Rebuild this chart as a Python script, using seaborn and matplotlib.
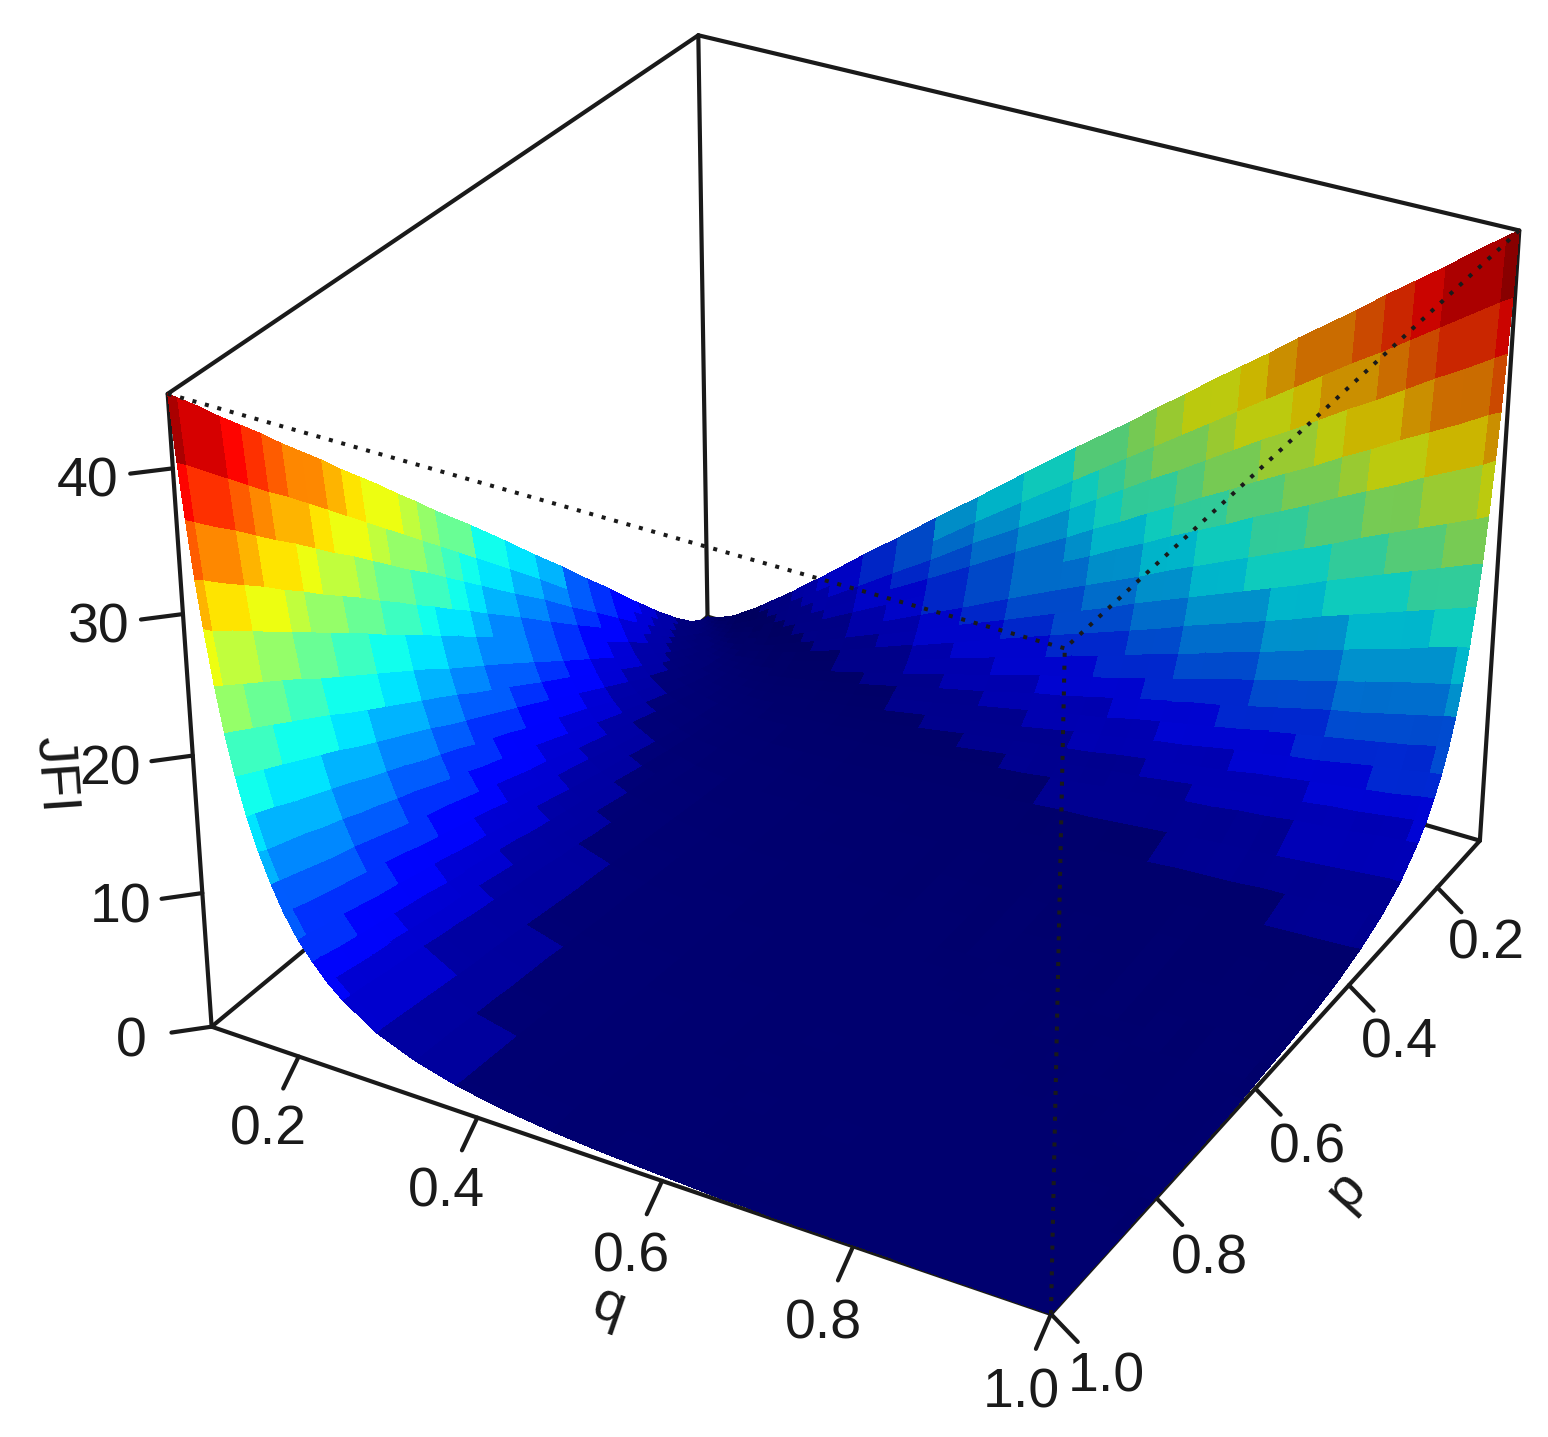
import numpy as np
import matplotlib
matplotlib.use('Agg')
import matplotlib.pyplot as plt
from matplotlib.transforms import ScaledTranslation
from mpl_toolkits.mplot3d import proj3d
import seaborn as sns

# shared p / q grid read from the facet spacing of the surface
grid_values = [.1,.105,.11,.116,.122,.13,.138,.147,.157,.168,.18,.193,.207,.222,.238,.255,.292,.333,.378,.427,.48,
               .538,.568,.598,.628,.658,.688,.718,.748,.778,.808,.838,.868,.898,.928,.958,.988,1.0]
# upper triangle of JFI (the two walls of the surface mirror one another)
z_rows = [
 [0,0,.1,.2,.4,.6,.9,1.3,1.7,2.2,2.8,3.4,4.1,4.9,5.7,6.6,8.6,10.7,13.1,15.6,18.4,21.4,22.9,24.4,26.0,27.5,29.1,30.6,32.1,33.7,35.2,36.7,38.3,39.8,41.3,42.9,44.4,45.0],
 [0,0,.1,.2,.4,.6,.9,1.3,1.8,2.3,2.8,3.5,4.2,4.9,5.7,7.5,9.4,11.5,13.9,16.4,19.1,20.5,21.9,23.3,24.7,26.1,27.5,28.9,30.3,31.7,33.1,34.4,35.8,37.2,38.6,40.0,40.5],
 [0,0,.1,.2,.4,.7,1.0,1.4,1.8,2.3,2.9,3.5,4.2,4.9,6.5,8.3,10.2,12.4,14.6,17.1,18.4,19.7,21.0,22.2,23.5,24.8,26.1,27.3,28.6,29.9,31.1,32.4,33.7,34.9,36.2,36.7],
 [0,0,.1,.2,.4,.7,1.0,1.4,1.8,2.3,2.9,3.5,4.1,5.6,7.2,8.9,10.8,12.9,15.1,16.3,17.4,18.6,19.7,20.9,22.0,23.2,24.3,25.4,26.6,27.7,28.9,30.0,31.1,32.3,32.7],
 [0,0,.1,.3,.5,.7,1.1,1.4,1.9,2.4,2.9,3.5,4.8,6.2,7.8,9.5,11.4,13.4,14.4,15.5,16.5,17.6,18.6,19.6,20.7,21.7,22.7,23.8,24.8,25.8,26.9,27.9,28.9,29.4],
 [0,0,.1,.3,.5,.7,1.0,1.4,1.8,2.3,2.8,3.9,5.1,6.5,8.0,9.7,11.5,12.4,13.3,14.2,15.2,16.1,17.0,17.9,18.8,19.7,20.6,21.6,22.5,23.4,24.3,25.2,25.6],
 [0,0,.1,.3,.5,.7,1.0,1.4,1.8,2.2,3.2,4.3,5.5,6.9,8.3,9.9,10.7,11.5,12.4,13.2,14.0,14.8,15.6,16.4,17.2,18.1,18.9,19.7,20.5,21.3,22.1,22.4],
 [0,0,.1,.3,.5,.7,1.0,1.3,1.7,2.5,3.5,4.6,5.8,7.1,8.5,9.2,9.9,10.6,11.3,12.1,12.8,13.5,14.2,14.9,15.7,16.4,17.1,17.8,18.5,19.2,19.5],
 [0,0,.1,.2,.4,.7,.9,1.2,2.0,2.8,3.7,4.8,5.9,7.1,7.8,8.4,9.0,9.7,10.3,10.9,11.6,12.2,12.8,13.5,14.1,14.7,15.3,16.0,16.6,16.8],
 [0,0,.1,.2,.4,.6,.9,1.5,2.2,3.0,3.9,4.9,6.0,6.5,7.1,7.6,8.2,8.7,9.3,9.9,10.4,11.0,11.5,12.1,12.6,13.2,13.7,14.2,14.5],
 [0,0,.1,.2,.4,.6,1.1,1.7,2.4,3.2,4.0,5.0,5.4,5.9,6.4,6.9,7.4,7.9,8.3,8.8,9.3,9.8,10.3,10.7,11.2,11.7,12.2,12.4],
 [0,0,.1,.2,.4,.8,1.3,1.9,2.5,3.3,4.1,4.5,4.9,5.3,5.8,6.2,6.6,7.0,7.4,7.9,8.3,8.7,9.1,9.5,9.9,10.4,10.5],
 [0,0,.1,.2,.5,.9,1.4,2.0,2.6,3.3,3.7,4.1,4.4,4.8,5.2,5.5,5.9,6.3,6.6,7.0,7.3,7.7,8.1,8.4,8.8,8.9],
 [0,0,.1,.3,.6,1.0,1.5,2.1,2.7,3.0,3.3,3.6,4.0,4.3,4.6,4.9,5.2,5.6,5.9,6.2,6.5,6.8,7.1,7.5,7.6],
 [0,0,.2,.4,.8,1.2,1.6,2.2,2.4,2.7,3.0,3.3,3.5,3.8,4.1,4.4,4.6,4.9,5.2,5.5,5.7,6.0,6.3,6.4],
 [0,.1,.3,.5,.9,1.3,1.7,1.9,2.2,2.4,2.7,2.9,3.1,3.4,3.6,3.9,4.1,4.4,4.6,4.8,5.1,5.3,5.4],
 [0,.1,.2,.4,.7,1.0,1.2,1.4,1.6,1.7,1.9,2.1,2.3,2.5,2.7,2.8,3.0,3.2,3.4,3.6,3.8,3.8],
 [0,0,.2,.3,.6,.7,.8,1.0,1.1,1.2,1.4,1.5,1.7,1.8,1.9,2.1,2.2,2.4,2.5,2.6,2.7],
 [0,0,.1,.3,.4,.5,.6,.7,.8,.9,1.0,1.1,1.2,1.3,1.4,1.5,1.6,1.7,1.8,1.9],
 [0,0,.1,.2,.2,.3,.4,.4,.5,.6,.7,.8,.8,.9,1.0,1.1,1.2,1.3,1.3],
 [0,0,.1,.1,.1,.2,.2,.3,.3,.4,.5,.5,.6,.7,.7,.8,.8,.9],
 [0,0,0,0,.1,.1,.1,.2,.2,.3,.3,.4,.4,.5,.5,.6,.6],
 [0,0,0,0,.1,.1,.1,.2,.2,.2,.3,.3,.4,.4,.4,.5],
 [0,0,0,0,.1,.1,.1,.1,.2,.2,.2,.3,.3,.3,.4],
 [0,0,0,0,0,.1,.1,.1,.1,.2,.2,.2,.3,.3],
 [0,0,0,0,0,.1,.1,.1,.1,.2,.2,.2,.2],
 [0,0,0,0,0,.1,.1,.1,.1,.1,.2,.2],
 [0,0,0,0,0,0,.1,.1,.1,.1,.1],
 [0,0,0,0,0,0,.1,.1,.1,.1],
 [0,0,0,0,0,0,.1,.1,.1],
 [0,0,0,0,0,0,.1,.1],
 [0,0,0,0,0,0,.1],
 [0,0,0,0,0,0],
 [0,0,0,0,0],
 [0,0,0,0],
 [0,0,0],
 [0,0],
 [0],
]
q_ticks = [.2,.4,.6,.8,1.0]
p_ticks = [.2,.4,.6,.8,1.0]
z_ticks = [0,10,20,30,40]
ramp = ["#00007F","#0000FF","#007FFF","#00FFFF","#7FFF7F","#FFFF00","#FF7F00","#FF0000","#7F0000"]

sns.set_theme(style='white')
plt.rcParams['font.family'] = ['Liberation Sans', 'DejaVu Sans']

W, H = 1548, 1437
P0, P1, Z1 = .1, 1.0, 45.0
BOX = (1.33791, 1.33686, 1.0)
fig = plt.figure(figsize=(W/100, H/100), dpi=100)
ax = fig.add_axes([98.82/W, 42.96/H, 1487.06/W, 1487.06/H], projection='3d', computed_zorder=False)
ax.set_xlim(P0, P1, view_margin=0); ax.set_ylim(P0, P1, view_margin=0); ax.set_zlim(0, Z1, view_margin=0)
ax.view_init(29.8955, 29.9566, 0)
ax.set_proj_type('persp', focal_length=0.69868)
ax.set_box_aspect(BOX)
ax.set_axis_off()

g = np.array(grid_values)
n = len(g)
Z = np.zeros((n, n))
for i, row in enumerate(z_rows):
    Z[i, i:] = row
    Z[i:, i] = row
Pg, Qg = np.meshgrid(g, g, indexing='ij')

# facet colour: level of the mean height, dimmed by a light from the +q side
palette = np.array(sns.blend_palette(ramp, n_colors=24))
zc = (Z[:-1,:-1]+Z[1:,:-1]+Z[:-1,1:]+Z[1:,1:])/4
level = np.clip((zc/1.9).astype(int), 0, 23)
dzp = ((Z[1:,:-1]-Z[:-1,:-1]+Z[1:,1:]-Z[:-1,1:])/2)/Z1*BOX[2] / (np.diff(g)[:,None]/(P1-P0)*BOX[0])
dzq = ((Z[:-1,1:]-Z[:-1,:-1]+Z[1:,1:]-Z[1:,:-1])/2)/Z1*BOX[2] / (np.diff(g)[None,:]/(P1-P0)*BOX[1])
nn = np.sqrt(dzp**2+dzq**2+1)
light = np.array([0, .95, .3]); light = light/np.linalg.norm(light)
dot = (-dzp*light[0]-dzq*light[1]+light[2])/nn
fade = np.clip(((1+dot)/2)**.32, 0, 1)
fc = np.dstack([palette[level]*fade[...,None], np.ones_like(fade)])

LW = 3.0
k = .03
kl = .065
dp, dz = (P1-P0), Z1
M = ax.get_proj()
FS = 40

def label(x, y, z, s, dx=0, dy=0, rot=0):
    X, Y, _ = proj3d.proj_transform(x, y, z, M)
    tr = ax.transData + ScaledTranslation(dx/100, dy/100, fig.dpi_scale_trans)
    ax.text2D(float(X), float(Y), s, transform=tr, fontsize=FS, rotation=rot,
              rotation_mode='anchor', ha='center', va='center', color='k', clip_on=False)

edges = [((P1,P0,0),(P1,P1,0)),((P1,P1,0),(P0,P1,0)),((P0,P1,0),(P0,P0,0)),((P0,P0,0),(P1,P0,0)),
         ((P1,P0,0),(P1,P0,Z1)),((P0,P1,0),(P0,P1,Z1)),((P0,P0,0),(P0,P0,Z1)),
         ((P1,P0,Z1),(P0,P0,Z1)),((P0,P0,Z1),(P0,P1,Z1))]
for a, b in edges:
    ax.plot(*zip(a, b), color='k', lw=LW, zorder=1, solid_capstyle='round')
for v in q_ticks:
    ax.plot([P1, P1+dp*k], [v, v], [0, -dz*k], color='k', lw=LW, zorder=1)
    label(P1+dp*kl, v, -dz*kl, f'{v:.1f}', dx=3, dy=-4)
for v in p_ticks:
    ax.plot([v, v], [P1, P1+dp*k], [0, -dz*k], color='k', lw=LW, zorder=1)
    label(v, P1+dp*kl, -dz*kl, f'{v:.1f}', dx=-3, dy=-3)
for v in z_ticks:
    ax.plot([P1, P1+dp*k], [P0, P0-dp*k], [v, v], color='k', lw=LW, zorder=1)
    label(P1+dp*kl, P0-dp*kl, v, f'{v:d}', dx=7, dy=-3)
label(P1+dp*.112, .605, -dz*.112, 'q', rot=-19)
label(.607, P1+dp*.112, -dz*.112, 'p', rot=48)
label(P1+dp*.10, P0-dp*.10, 20, 'JFI', rot=-86)

ax.plot_surface(Pg, Qg, Z, rstride=1, cstride=1, facecolors=fc, shade=False, antialiased=False, linewidth=0, zorder=2)

dot_style = (0, (1, 2.2))
for a, b in [((P1,P0,Z1),(P1,P1,Z1)),((P0,P1,Z1),(P1,P1,Z1)),((P1,P1,0),(P1,P1,Z1))]:
    ax.plot(*zip(a, b), color='k', lw=2.9, ls=dot_style, zorder=3, dash_capstyle='butt')

fig.savefig('out.png', dpi=100)
